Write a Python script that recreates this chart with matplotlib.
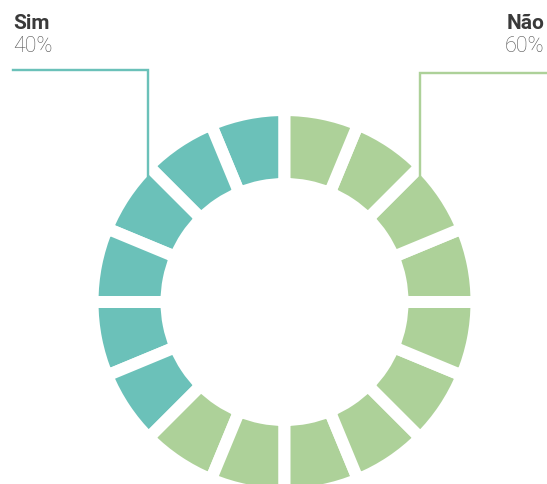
import matplotlib
matplotlib.use("Agg")
import matplotlib.pyplot as plt

categories = ["Sim", "Não"]
percentages = [40, 60]
colors = ["#6BC1B9", "#ADD199"]
total_units = 16

units = [round(p / 100 * total_units) for p in percentages]
seg_values = []
seg_colors = []
for u, c in zip(units, colors):
    seg_values += [1] * u
    seg_colors += [c] * u

W, H = 547, 484
dpi = 100
fig = plt.figure(figsize=(W / dpi, H / dpi), dpi=dpi)
ax = fig.add_axes([0, 0, 1, 1])

px2pt = 72 / dpi
gap_px = 12
cx, cy = 284.5, H - 302
outer, inner = 186, 124

ax.pie(seg_values, colors=seg_colors, startangle=90, counterclock=True,
       center=(cx, cy), radius=outer + gap_px / 2,
       wedgeprops=dict(width=(outer - inner) + gap_px, edgecolor="white",
                       linewidth=gap_px * px2pt, joinstyle="miter"),
       frame=True)
ax.set_xlim(0, W)
ax.set_ylim(0, H)
ax.set_aspect("equal")
ax.axis("off")

# leader lines
lw = 2.4 * px2pt
ax.plot([13, 148, 148], [H - 70, H - 70, H - 176], color=colors[0], lw=lw,
        solid_joinstyle="miter")
ax.plot([547, 420, 420], [H - 73, H - 73, H - 177], color=colors[1], lw=lw,
        solid_joinstyle="miter")

fam = ["Roboto", "DejaVu Sans"]
ax.text(13, H - 29, categories[0], ha="left", va="baseline", fontsize=15,
        fontweight="bold", color="#3a3a3a", family=fam)
ax.text(13, H - 52.5, f"{percentages[0]}%", ha="left", va="baseline", fontsize=15.5,
        fontweight="light", color="#555555", family=fam)
ax.text(544, H - 29, categories[1], ha="right", va="baseline", fontsize=15,
        fontweight="bold", color="#3a3a3a", family=fam)
ax.text(544, H - 52.5, f"{percentages[1]}%", ha="right", va="baseline", fontsize=15.5,
        fontweight="light", color="#555555", family=fam)

fig.savefig("out.png", dpi=dpi)
